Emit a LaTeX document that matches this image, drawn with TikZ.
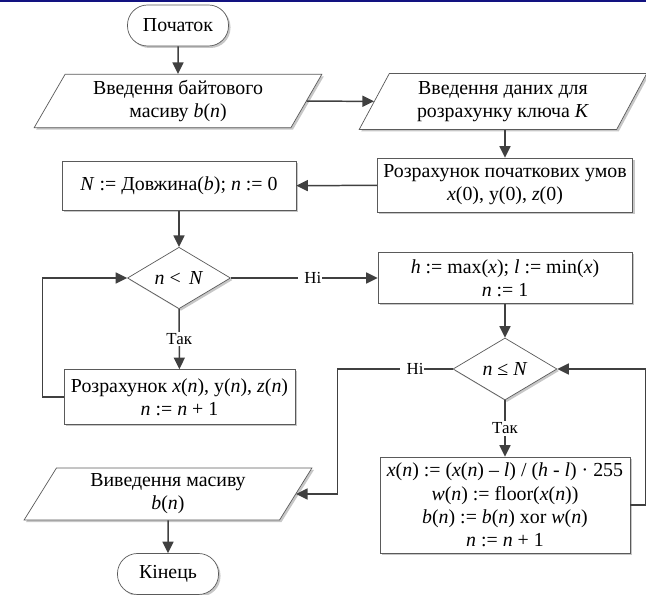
\documentclass[tikz,border=0pt]{standalone}
\usepackage{fontspec}
\setmainfont{Liberation Serif}
\usepackage{tikz}
\usetikzlibrary{shapes.geometric, arrows.meta, positioning, calc, shadows}
\definecolor{cLine}{RGB}{64,64,64}
\definecolor{cEdge}{RGB}{90,90,90}
\definecolor{cBar}{RGB}{18,18,128}
\newcommand{\mv}[1]{\textit{#1}}
\tikzset{
	shade/.style   ={drop shadow={shadow xshift=0.04cm, shadow yshift=-0.04cm, opacity=0.22, fill=black}},
	startstop/.style={rectangle, rounded corners=0.4cm, minimum width=2.02cm, minimum height=0.82cm, align=center, draw=cEdge, fill=white, shade},
	process/.style  ={rectangle, align=center, draw=cEdge, fill=white, shade},
	io/.style       ={trapezium, trapezium left angle=65, trapezium right angle=115, trapezium stretches=true, minimum width=5.76cm, minimum height=1.04cm, align=center, draw=cEdge, fill=white, shade},
	decision/.style ={diamond, minimum width=2.06cm, minimum height=1.23cm, inner sep=0pt, align=center, draw=cEdge, fill=white, shade},
	flowarrow/.style={-{Triangle[length=2.3mm, width=2.2mm]}, line width=0.85pt, draw=cLine},
	% yes / no marks on the branches
	branch/.style   ={fill=white, inner ysep=1pt, inner xsep=0.5pt, font=\fontsize{9.6}{11}\selectfont},
}

\begin{document}
\begin{tikzpicture}[font=\fontsize{11.3}{13.2}\selectfont]
	\useasboundingbox (0,0) rectangle (12.92,-11.9);
	\fill[cBar] (0,0) rectangle (12.92,-0.05);

	% left column
	\node[startstop] (start) at (3.56,-0.51) {Початок};
	\node[io] (inb) at (3.56,-2.02) {Введення байтового\\ масиву \mv{b}(\mv{n})};
	\node[process, minimum width=4.68cm, minimum height=0.98cm] (setn) at (3.58,-3.72) {\mv{N} := Довжина(\mv{b}); \mv{n} := 0};
	\node[decision] (lt) at (3.58,-5.56) {\mv{n} <\, \mv{N}};
	\node[process, minimum width=4.62cm, minimum height=1.1cm] (step) at (3.59,-7.94) {Розрахунок \mv{x}(\mv{n}), y(\mv{n}), \mv{z}(\mv{n})\\ \mv{n} := \mv{n} + 1};
	\node[io, minimum height=1.02cm] (outb) at (3.36,-9.88) {Виведення масиву\\ \mv{b}(\mv{n})};
	\node[startstop] (stop) at (3.36,-11.48) {Кінець};

	% right column
	\node[io, minimum height=1.12cm] (ink) at (10.06,-2.03) {Введення даних для\\ розрахунку ключа \mv{K}};
	\node[process, minimum width=5.08cm, minimum height=1.08cm] (init) at (10.1,-3.7) {Розрахунок початкових умов\\ \mv{x}(0), y(0), \mv{z}(0)};
	\node[process, minimum width=5.08cm, minimum height=1.02cm] (hl) at (10.1,-5.56) {\mv{h} := max(\mv{x}); \mv{l} := min(\mv{x})\\ \mv{n} := 1};
	\node[decision, minimum width=2.08cm, minimum height=1.24cm] (le) at (10.1,-7.38) {\mv{n} ≤ \mv{N}};
	\node[process, minimum width=5.0cm, minimum height=1.92cm] (mix) at (10.1,-10.1) {\mv{x}(\mv{n}) := (\mv{x}(\mv{n}) – \mv{l}) / (\mv{h} - \mv{l}) · 255\\ \mv{w}(\mv{n}) := floor(\mv{x}(\mv{n}))\\ \mv{b}(\mv{n}) := \mv{b}(\mv{n}) xor \mv{w}(\mv{n})\\ \mv{n} := \mv{n} + 1};

	\draw[flowarrow] (start) -- (inb);
	\draw[flowarrow] (inb) -- (ink);
	\draw[flowarrow] (ink.south -| init.north) -- (init);
	\draw[flowarrow] (init) -- (setn);
	\draw[flowarrow] (setn) -- (lt);
	\draw[flowarrow] (lt) -- node[branch] {Так} (step);
	\draw[flowarrow] (step.west) -- ++(-0.42,0) |- (lt.west);
	\draw[flowarrow] (lt) -- node[branch, pos=0.54] {\hspace{3pt}Ні} (hl);
	\draw[flowarrow] (hl) -- (le);
	\draw[flowarrow] (le) -- node[branch] {Так} (mix);
	\draw[flowarrow] (mix.east) -- ++(0.3,0) |- (le.east);
	\draw[flowarrow] (le.west) -- node[branch, pos=0.35] {\hspace{3pt}Ні} ++(-2.3,0) |- (outb);
	\draw[flowarrow] (outb) -- (stop);
\end{tikzpicture}
\end{document}
